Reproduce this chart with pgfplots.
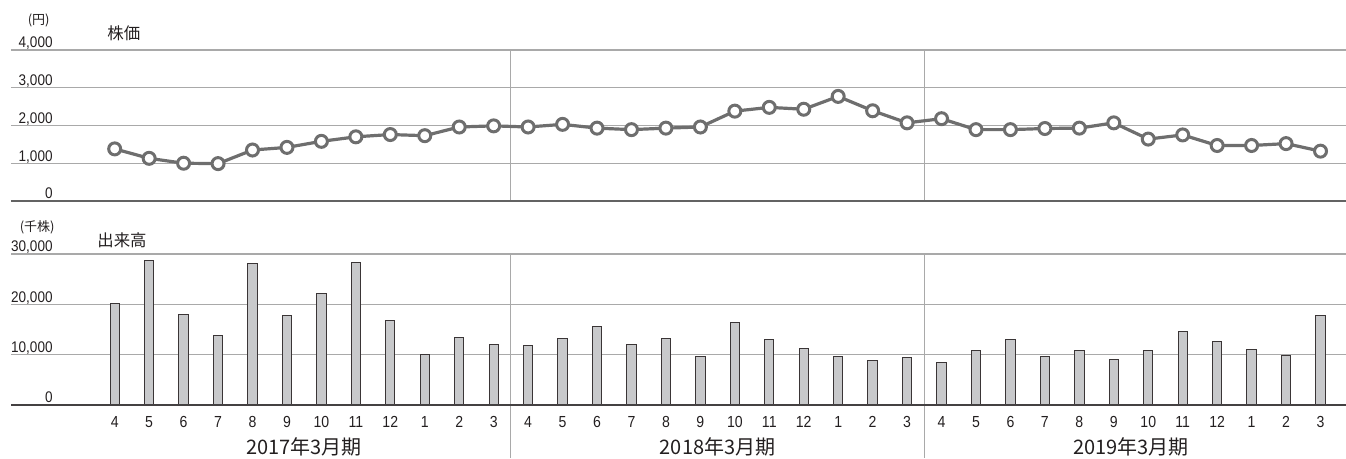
\documentclass[border=0pt]{standalone}
\usepackage{pgfplots}
\pgfplotsset{compat=1.18}
\usepackage{pgfplotstable}
\usepackage{fontspec}
\setmainfont{Liberation Sans}[FakeStretch=0.88]
\newfontfamily\cjk{Noto Sans CJK JP}
\definecolor{txt}{HTML}{231F20}
\definecolor{gridc}{HTML}{A9A9A9}
\definecolor{linec}{HTML}{6E6E6E}
\definecolor{barc}{HTML}{C8C9CB}
\definecolor{bard}{HTML}{3A3536}

\pgfplotstableread{
i price volume
0 1380 20200
1 1130 28800
2 1000 18000
3 990 13800
4 1350 28150
5 1420 17750
6 1580 22200
7 1700 28400
8 1760 16800
9 1730 10070
10 1960 13450
11 1990 12050
12 1960 11800
13 2030 13250
14 1930 15500
15 1890 12000
16 1930 13180
17 1960 9540
18 2380 16420
19 2480 13050
20 2430 11260
21 2770 9670
22 2390 8870
23 2070 9470
24 2180 8480
25 1890 10860
26 1890 13110
27 1920 9670
28 1930 10860
29 2070 9070
30 1640 10860
31 1750 14570
32 1470 12650
33 1470 10930
34 1520 9800
35 1320 17750
}\data

\pgfplotsset{
  base/.style={
    scale only axis, width=667.5pt, height=75.5pt,
    anchor=south west,
    xmin=-3.01, xmax=35.74,
    axis line style={draw=none},
    ymajorgrids, grid style={gridc, line width=0.6pt},
    major tick length=0,
    scaled y ticks=false,
    clip=false,
    yticklabel style={font=\fontsize{7.7}{8}\selectfont, text=txt, anchor=base east, inner sep=0pt, xshift=21pt, yshift=1pt},
  }
}

\begin{document}
\begin{tikzpicture}
\path[use as bounding box] (0,0) rectangle (673pt,229.5pt);

% top: stock price
\begin{axis}[base, at={(5.5pt,129pt)},
  ymin=0, ymax=4000,
  ytick={0,1000,2000,3000,4000},
  yticklabels={0,{1,000},{2,000},{3,000},{4,000}},
  xtick=\empty]
  \draw[gridc, line width=0.6pt] (axis cs:11.5,0) -- (axis cs:11.5,4000);
  \draw[gridc, line width=0.6pt] (axis cs:23.5,0) -- (axis cs:23.5,4000);
  \draw[linec!90!black, line width=1pt] (axis cs:-3.01,0) -- (axis cs:35.74,0);
  \addplot[linec, line width=1.6pt, mark=*, mark size=3pt,
    mark options={fill=white, draw=linec, line width=1.5pt}]
    table[x=i, y=price] {\data};
  \node[font=\cjk\fontsize{8.2}{9}\selectfont, text=txt, anchor=west, inner sep=0pt]
    at (axis cs:-3.01,4000) [xshift=48pt, yshift=8.5pt] {株価};
  \node[font=\cjk\fontsize{6.5}{7}\selectfont, text=txt, anchor=east, inner sep=0pt]
    at (axis cs:-3.01,4000) [xshift=19.5pt, yshift=15pt] {(円)};
\end{axis}

% bottom: volume
\begin{axis}[base, at={(5.5pt,27pt)},
  ymin=0, ymax=30000,
  ytick={0,10000,20000,30000},
  yticklabels={0,{10,000},{20,000},{30,000}},
  xtick={0,...,35},
  xticklabels={4,5,6,7,8,9,10,11,12,1,2,3,4,5,6,7,8,9,10,11,12,1,2,3,4,5,6,7,8,9,10,11,12,1,2,3},
  xticklabel style={font=\fontsize{8}{9}\selectfont, text=txt, anchor=base, inner sep=0pt, yshift=-11.5pt},
  ybar, bar width=4.65pt]
  \draw[gridc, line width=0.6pt] (axis cs:11.5,30000) -- ([yshift=-26.5pt]axis cs:11.5,0);
  \draw[gridc, line width=0.6pt] (axis cs:23.5,30000) -- ([yshift=-26.5pt]axis cs:23.5,0);
  \addplot[fill=barc, draw=bard, line width=0.5pt] table[x=i, y=volume] {\data};
  \draw[txt!85, line width=0.6pt] (axis cs:-3.01,0) -- (axis cs:35.74,0);
  \node[font=\cjk\fontsize{8.2}{9}\selectfont, text=txt, anchor=west, inner sep=0pt]
    at (axis cs:-3.01,30000) [xshift=43pt, yshift=7pt] {出来高};
  \node[font=\cjk\fontsize{6.5}{7}\selectfont, text=txt, anchor=east, inner sep=0pt]
    at (axis cs:-3.01,30000) [xshift=22pt, yshift=13.5pt] {(千株)};
  \node[font=\cjk\fontsize{10}{11}\selectfont, text=txt, anchor=base, inner sep=0pt]
    at (axis cs:5.5,0) [yshift=-25pt] {2017年3月期};
  \node[font=\cjk\fontsize{10}{11}\selectfont, text=txt, anchor=base, inner sep=0pt]
    at (axis cs:17.5,0) [yshift=-25pt] {2018年3月期};
  \node[font=\cjk\fontsize{10}{11}\selectfont, text=txt, anchor=base, inner sep=0pt]
    at (axis cs:29.5,0) [yshift=-25pt] {2019年3月期};
\end{axis}
\end{tikzpicture}
\end{document}
